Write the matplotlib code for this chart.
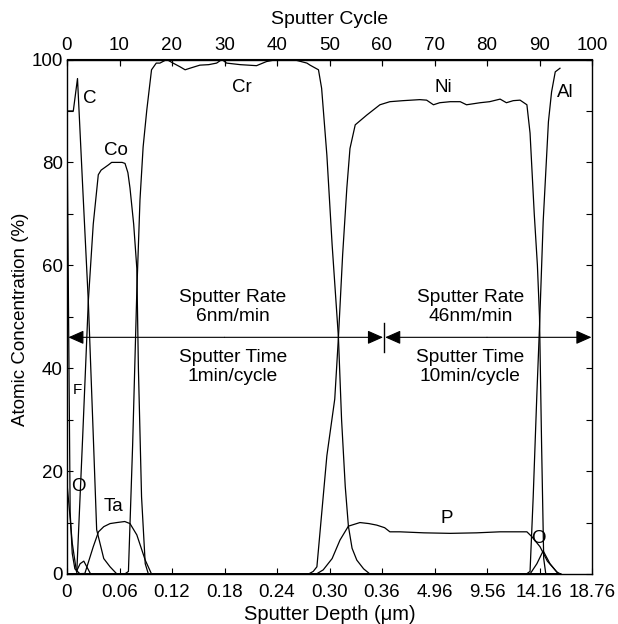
import matplotlib
matplotlib.use("Agg")
import matplotlib.pyplot as plt
from matplotlib.ticker import MultipleLocator, FixedLocator

plt.rcParams['font.family'] = ['Liberation Sans', 'DejaVu Sans']

# ---- data (x in sputter cycles, y in atomic %) ----
C_x = [0, 1.2, 2.0, 3.0, 4.06, 5.0, 5.65, 7.0, 8.2, 9.5, 94]
C_y = [90, 90, 96.3, 75, 53, 27, 8.6, 3, 1.4, 0, 0]

F_x = [0, 0.3, 0.6, 1.0, 1.5, 2.5, 94]
F_y = [88, 50, 12, 4, 1, 0, 0]

O_x = [0, 0.5, 1.0, 1.8, 2.5, 3.2, 4.5, 88.2, 89.5, 90.7, 92.0, 93.6, 94]
O_y = [17.6, 12, 6, 0.5, 2.0, 2.5, 0, 0, 2, 4.5, 2, 0, 0]

Co_x = [0, 1.85, 3.0, 4.06, 5.0, 5.96, 6.5, 7.87, 8.5, 9.14, 10.5, 11.05, 11.6,
        12.0, 12.7, 13.3, 13.6, 14.2, 14.9, 15.5, 94]
Co_y = [0, 0, 27, 53, 68, 77.6, 78.5, 79.5, 80, 80, 80, 79.8, 78,
        75, 68, 59.4, 40, 15, 2, 0, 0]

Ta_x = [0, 3.4, 5, 6, 7, 8.2, 9.5, 11, 12, 13.3, 14.9, 16.1, 94]
Ta_y = [0, 0.1, 5.3, 8.2, 9.2, 9.8, 10, 10.2, 9.8, 7.6, 2.7, 0, 0]

Cr_x = [0, 11.0, 11.7, 12.5, 13.3, 13.9, 14.5, 15.2, 16.1, 17.0, 17.7, 19.0, 20.2,
        21.5, 22.5, 23.4, 25.3, 27, 28.5, 29.5, 30.4, 33, 36.1, 38, 40, 43.1, 45.7,
        46.3, 47.9, 48.5, 49.5, 50.5, 51.7, 52.3, 53.0, 53.6, 54.3, 55.2, 56.5, 57.7, 94]
Cr_y = [0, 0, 0.5, 25, 55, 72.7, 83, 90.2, 98, 99.3, 99.3, 100, 99.3,
        98.6, 98, 98.3, 98.9, 99, 99.3, 100, 99.3, 99, 98.8, 99.6, 100, 100, 99.3,
        98.9, 98, 94.4, 81.4, 64, 46, 30, 17, 9.3, 5, 2.7, 1, 0, 0]

Ni_x = [0, 46.0, 46.9, 47.6, 49.5, 51.0, 51.7, 52.5, 53.3, 53.9, 54.9, 57.1, 59.6, 61.5,
        64, 67.2, 68.5, 69.8, 71, 73, 74.9, 76.1, 78.7, 80.5, 82.5, 83.7, 85, 86.3,
        87.6, 88.2, 89.0, 89.6, 90.0, 90.4, 90.8, 91.2, 94]
Ni_y = [0, 0, 0.5, 1.4, 23, 34, 46, 62, 75, 82.7, 87.3, 89.2, 91.2, 91.8,
        92, 92.2, 92.1, 91.2, 91.6, 91.8, 91.8, 91.2, 91.6, 91.8, 92.3, 91.6, 92, 92.1,
        91.2, 85.7, 70, 60, 50, 25, 3, 0, 0]

Al_x = [87.5, 88.2, 88.8, 89.5, 90.0, 90.7, 91.7, 92.3, 93.0, 93.9]
Al_y = [0, 0.5, 15, 35, 48, 68.5, 87.9, 93.7, 97.6, 98.3]

P_x = [0, 47.5, 48.8, 50.5, 52, 53.6, 55.8, 57.5, 59, 60.5, 61.5, 63.4, 68, 73, 78,
       82.5, 87.6, 88.5, 90.1, 91.5, 93.3, 94]
P_y = [0, 0, 0.8, 3, 6.6, 9.3, 10, 9.8, 9.5, 9, 8.2, 8.2, 8.0, 7.9, 8.0,
       8.2, 8.2, 7.3, 5.3, 2.5, 0.4, 0]

cycle_ticks = [0, 10, 20, 30, 40, 50, 60, 70, 80, 90, 100]
depth_labels = ["0", "0.06", "0.12", "0.18", "0.24", "0.30", "0.36",
                "4.96", "9.56", "14.16", "18.76"]
y_ticks = [0, 20, 40, 60, 80, 100]

labels = [("C", 4.4, 92.4), ("Co", 9.3, 82.4), ("Cr", 33.3, 94.5), ("Ni", 71.6, 94.5),
          ("Al", 94.9, 93.5), ("F", 1.9, 35.8), ("O", 2.15, 17.1), ("Ta", 8.8, 13.1),
          ("P", 72.3, 10.8), ("O", 89.8, 6.9)]

# ---- figure ----
fig = plt.figure(figsize=(6.18, 6.24), dpi=100)
ax = fig.add_axes([67/618, 1-574/624, 525/618, 514.5/624])

series = [(C_x, C_y), (F_x, F_y), (O_x, O_y), (Co_x, Co_y), (Ta_x, Ta_y),
          (Cr_x, Cr_y), (Ni_x, Ni_y), (Al_x, Al_y), (P_x, P_y)]
for xs, ys in series:
    ax.plot(xs, ys, color='black', lw=0.9)

ax.set_xlim(0, 100)
ax.set_ylim(0, 100)

ax.xaxis.set_major_locator(FixedLocator(cycle_ticks))
ax.set_xticklabels(depth_labels)
ax.yaxis.set_major_locator(FixedLocator(y_ticks))
ax.yaxis.set_minor_locator(MultipleLocator(10))
ax.tick_params(axis='both', which='both', direction='in', top=True, right=True,
               length=4, width=0.8, labelsize=13.5)
ax.tick_params(axis='x', pad=7)
ax.tick_params(axis='y', pad=3)

ax.set_xlabel("Sputter Depth (\u03bcm)", fontsize=14.5, labelpad=3)
ax.set_ylabel("Atomic Concentration (%)", fontsize=13.5)
ax.yaxis.set_label_coords(-0.072, 0.495)

sec = ax.secondary_xaxis('top')
sec.xaxis.set_major_locator(FixedLocator(cycle_ticks))
sec.set_xticklabels([str(t) for t in cycle_ticks])
sec.tick_params(direction='in', length=4, width=0.8, labelsize=13.5, pad=4)
sec.set_xlabel("Sputter Cycle", fontsize=14, labelpad=9)

for sp in ax.spines.values():
    sp.set_linewidth(1.0)

for txt, x, y in labels:
    fs = 11 if txt == "F" else 13.5
    ax.text(x, y, txt, fontsize=fs, ha='center', va='center')

# sputter rate annotations
arrow_y = 46
ap = dict(arrowstyle='-|>,head_length=0.95,head_width=0.42', color='black', lw=0.8,
          mutation_scale=10, shrinkA=0, shrinkB=0)
ax.annotate('', xy=(0.25, arrow_y), xytext=(30, arrow_y), arrowprops=ap)
ax.annotate('', xy=(60.2, arrow_y), xytext=(30, arrow_y), arrowprops=ap)
ax.annotate('', xy=(60.6, arrow_y), xytext=(80, arrow_y), arrowprops=ap)
ax.annotate('', xy=(99.9, arrow_y), xytext=(80, arrow_y), arrowprops=ap)
ax.plot([60.3, 60.3], [43.2, 48.8], color='black', lw=1.0)

tfs = 13.8
ax.text(31.6, 51.9, "Sputter Rate\n6nm/min", fontsize=tfs, ha='center', va='center',
        linespacing=1.2)
ax.text(31.6, 40.2, "Sputter Time\n1min/cycle", fontsize=tfs, ha='center', va='center',
        linespacing=1.2)
ax.text(76.8, 51.9, "Sputter Rate\n46nm/min", fontsize=tfs, ha='center', va='center',
        linespacing=1.2)
ax.text(76.8, 40.2, "Sputter Time\n10min/cycle", fontsize=tfs, ha='center', va='center',
        linespacing=1.2)

fig.savefig("out.png", dpi=100)
